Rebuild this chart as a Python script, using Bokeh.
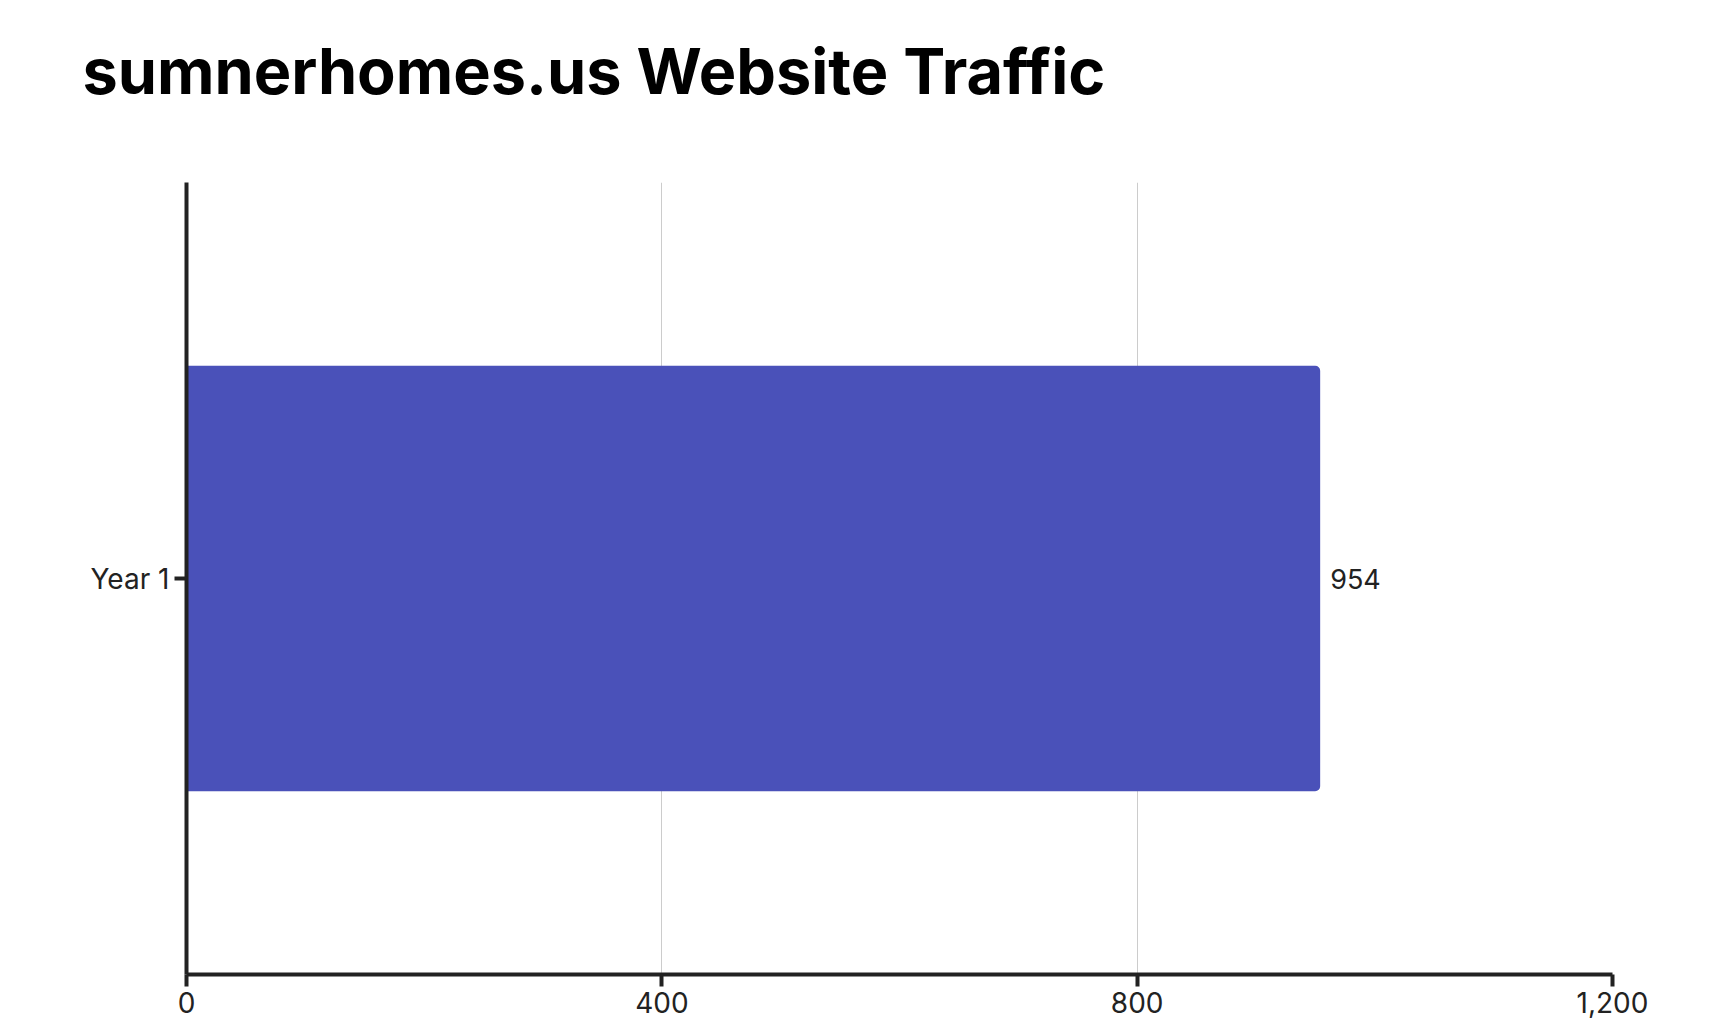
from bokeh.plotting import figure
from bokeh.models import ColumnDataSource, FactorRange, NumeralTickFormatter, FixedTicker
from bokeh.embed import file_html
from bokeh.resources import INLINE
from bokeh.core.properties import value

# ---- data ----
title_text = "sumnerhomes.us Website Traffic"
categories = ["Year 1"]
visits = [954]
x_ticks = [0, 400, 800, 1200]

src = ColumnDataSource(dict(cat=categories, val=visits, lbl=[f"{v:,}" for v in visits]))

p = figure(
    width=1710, height=1069,
    y_range=FactorRange(factors=categories, range_padding=0),
    x_range=(0, 1200),
    output_backend="svg", toolbar_location=None, tools="",
    min_border_left=186, min_border_right=98, min_border_top=0, min_border_bottom=51,
    margin=(-44, 0, 0, 0),
)
p.outline_line_color = None
p.background_fill_color = "white"
p.border_fill_color = "white"

# title
p.title.text = title_text
p.title.text_font = "Inter"
p.title.text_font_size = "63px"
p.title.text_font_style = "bold"
p.title.text_color = "#000000"
p.title.align = "left"
p.title.offset = -104
p.title.standoff = 148

p.hbar(y="cat", right="val", left=0, height=0.537, source=src,
       fill_color="#4A51B9", line_color=None, border_radius=(0, 5, 5, 0))

p.text(x="val", y="cat", text="lbl", source=src, x_offset=10,
       text_baseline="middle", text_align="left",
       text_font=value("Inter"), text_font_size="27px", text_color="#222222")

# axes
for ax in (p.xaxis[0], p.yaxis[0]):
    ax.axis_line_color = "#222222"
    ax.axis_line_width = 4
    ax.major_tick_line_color = "#222222"
    ax.major_tick_line_width = 4
    ax.major_tick_out = 12
    ax.major_tick_in = 0
    ax.minor_tick_line_color = None
    ax.major_label_text_font = "Inter"
    ax.major_label_text_font_size = "28px"
    ax.major_label_text_color = "#222222"
    ax.major_label_standoff = 5

p.xaxis.ticker = FixedTicker(ticks=x_ticks)
p.xaxis.formatter = NumeralTickFormatter(format="0,0")

p.xgrid.ticker = FixedTicker(ticks=x_ticks)
p.xgrid.grid_line_color = "#cccccc"
p.xgrid.grid_line_width = 1
p.ygrid.grid_line_color = None

open("out.html", "w").write(file_html(p, INLINE))
